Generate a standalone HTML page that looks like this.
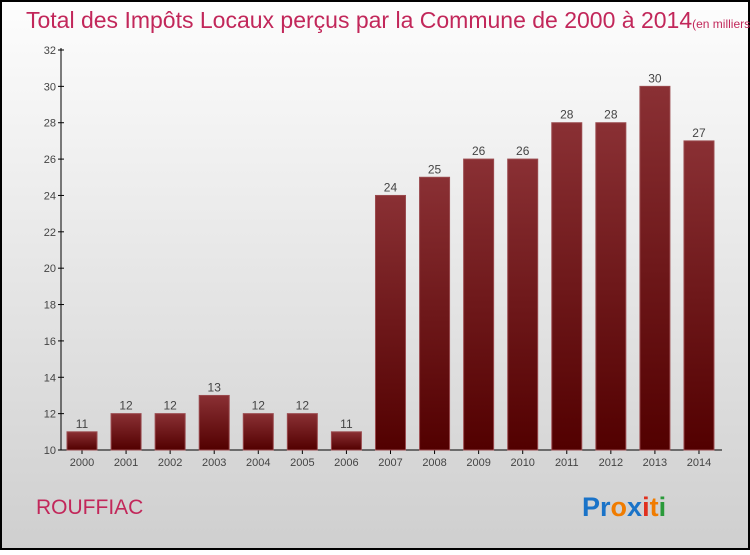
<!DOCTYPE html>
<html><head><meta charset="utf-8"><style>
body{margin:0;width:750px;height:550px;overflow:hidden;font-family:"Liberation Sans",sans-serif}
</style></head><body>
<svg width="750" height="550" xmlns="http://www.w3.org/2000/svg">
<defs>
<linearGradient id="bg" x1="0" y1="0" x2="0" y2="1"><stop offset="0" stop-color="#fdfdfd"/><stop offset="1" stop-color="#cfcfcf"/></linearGradient>
<linearGradient id="bar" x1="0" y1="0" x2="0" y2="1"><stop offset="0" stop-color="#8a3034"/><stop offset="1" stop-color="#520000"/></linearGradient>
</defs>
<rect x="1" y="1" width="748" height="548" fill="url(#bg)" stroke="#000" stroke-width="2"/>
<text x="26" y="28" font-size="23" fill="#c2275a">Total des Impôts Locaux perçus par la Commune de 2000 à 2014<tspan font-size="12">(en milliers d'€)</tspan></text>
<g id="axes"></g>
<g id="bars"></g>
<text x="36" y="514" font-size="21" fill="#c2275a">ROUFFIAC</text>
<text x="582" y="516" font-size="27" font-weight="bold"><tspan fill="#1a73c8">Pr</tspan><tspan fill="#f07c00">o</tspan><tspan fill="#1a73c8">x</tspan><tspan fill="#e0301e">i</tspan><tspan fill="#f07c00">t</tspan><tspan fill="#2a9a3a">i</tspan></text>
</svg>
<script>
const years=["2000","2001","2002","2003","2004","2005","2006","2007","2008","2009","2010","2011","2012","2013","2014"];
const values=[11,12,12,13,12,12,11,24,25,26,26,28,28,30,27];
const ticks=[10,12,14,16,18,20,22,24,26,28,30,32];
const NS="http://www.w3.org/2000/svg";
const y=v=>450-(v-10)*400/22;
const x=i=>82+i*44.07;
function mk(t,a,p){const e=document.createElementNS(NS,t);for(const k in a)e.setAttribute(k,a[k]);p.appendChild(e);return e;}
const ax=document.getElementById('axes'),bg=document.getElementById('bars');
const yl=mk('line',{x1:61,y1:48,x2:61,y2:450,stroke:'#000'},ax);


const xl=mk('line',{x1:61,y1:450,x2:722,y2:450,stroke:'#000'},ax);


ticks.forEach(t=>{
 mk('line',{x1:58,x2:64,y1:y(t),y2:y(t),stroke:'#000'},ax);
 const tx=mk('text',{x:56,y:y(t)+4,'text-anchor':'end','font-size':11,fill:'#444'},ax);
 tx.textContent=t;
 
 
});
values.forEach((v,i)=>{
 const r=mk('rect',{x:x(i)-15,y:y(v),width:30,height:450-y(v),fill:'url(#bar)',stroke:'#9a4a4e','stroke-width':1},bg);
 
 
 const l=mk('text',{x:x(i),y:y(v)-4,'text-anchor':'middle','font-size':12,fill:'#444'},bg);
 l.textContent=v;
 
 
 mk('line',{x1:x(i),x2:x(i),y1:450,y2:454,stroke:'#000'},ax);
 const c=mk('text',{x:x(i),y:466,'text-anchor':'middle','font-size':11,fill:'#444'},ax);
 c.textContent=years[i];
 
 
});
</script>
</body></html>
